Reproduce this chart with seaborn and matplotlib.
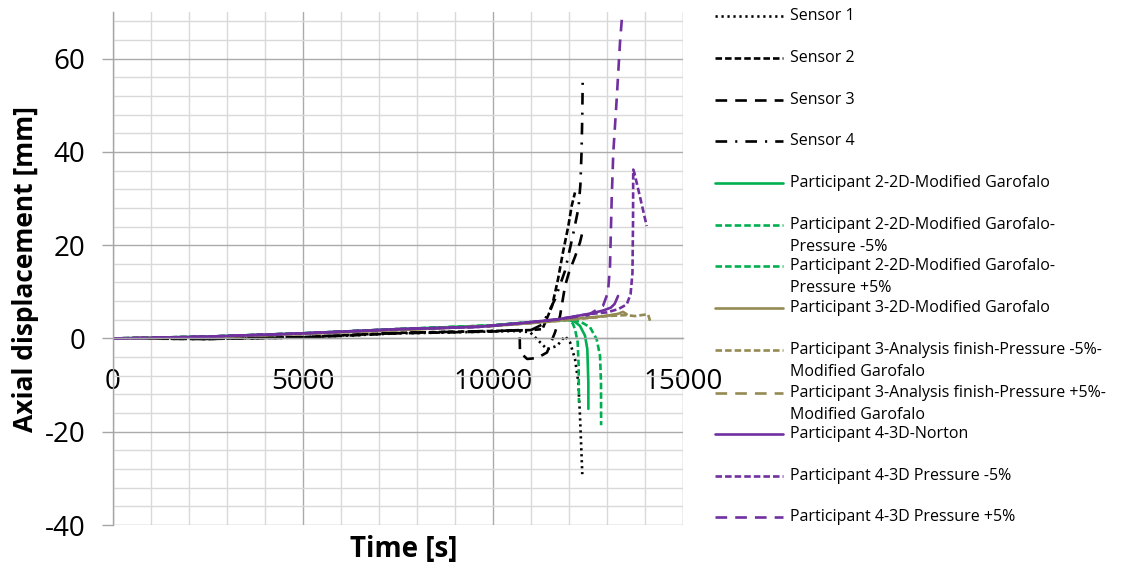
import matplotlib
matplotlib.use("Agg")
import matplotlib.pyplot as plt
import seaborn as sns
from matplotlib.lines import Line2D
from matplotlib.ticker import MultipleLocator

sns.set_theme(style="white")
plt.rcParams['font.family'] = ['Open Sans', 'DejaVu Sans']
plt.rcParams['lines.scale_dashes'] = False
plt.rcParams['axes.unicode_minus'] = False

# ---- measured axial displacement [mm] vs time [s] ----
sensor1_t = [0, 2500, 5000, 7500, 9000, 10000, 10600, 10974, 11237, 11421, 11684, 11895, 12026, 12158, 12245, 12289, 12350]
sensor1_d = [0, -0.1, 0.2, 1.1, 1.3, 1.5, 1.6, 1.35, -0.8, -2.3, -1.6, 0.5, -0.8, -4.4, -9.4, -16.6, -29.1]

sensor2_t = [0, 2500, 5000, 7500, 10000, 11000, 11300, 11553, 11711, 11842, 11982, 12070, 12158]
sensor2_d = [0, -0.1, 0.3, 1.2, 1.6, 1.8, 2.0, 6.9, 12.7, 18.5, 24.1, 28.4, 31.3]

sensor3_t = [0, 2500, 5000, 7500, 10000, 10700, 10710, 10900, 11160, 11421, 11632, 11763, 11895, 12000, 12158, 12289, 12360]
sensor3_d = [0, -0.1, 0.2, 1.1, 1.5, 1.8, -3.0, -4.4, -4.2, -3.0, 1.3, 4.8, 11.2, 14.2, 17.5, 20.6, 23.0]

sensor4_t = [0, 2500, 5000, 7500, 10000, 11000, 11300, 11632, 11895, 12100, 12250, 12300, 12330, 12350, 12362]
sensor4_d = [0, -0.1, 0.3, 1.2, 1.6, 1.8, 3.0, 8.4, 14.5, 22.0, 28.0, 33.0, 40.0, 48.0, 56.5]

# ---- participant 2 (2D, modified Garofalo) ----
p2_t = [0, 2500, 5000, 7500, 10000, 11000, 11700, 11974, 12150, 12289, 12421, 12482, 12509, 12510]
p2_d = [0, 0.4, 1.1, 2.0, 2.8, 3.5, 3.9, 4.0, 3.6, 2.7, 0.6, -2.3, -9.4, -15.1]

p2_m5_t = [0, 2500, 5000, 7500, 10000, 11000, 11700, 11974, 12300, 12553, 12728, 12816, 12842, 12845]
p2_m5_d = [0, 0.4, 1.1, 2.0, 2.8, 3.5, 3.9, 4.0, 3.6, 2.4, -0.15, -3.7, -9.4, -18.6]

p2_p5_t = [0, 2500, 5000, 7500, 10000, 11000, 11700, 11974, 12100, 12158, 12228, 12254, 12262]
p2_p5_d = [0, 0.4, 1.1, 2.0, 2.8, 3.5, 3.9, 4.0, 3.2, 2.0, -0.8, -5.9, -13.7]

# ---- participant 3 ----
p3_t = [0, 2500, 5000, 7500, 10000, 11000, 11800, 12400, 12816, 13100, 13300, 13421, 13518]
p3_d = [0, 0.3, 1.0, 1.8, 2.7, 3.3, 3.9, 4.4, 4.7, 5.0, 5.3, 5.7, 5.2]

p3_m5_t = [0, 2500, 5000, 7500, 10000, 11000, 11800, 12400, 13000, 13500, 13737, 14079, 14132]
p3_m5_d = [0, 0.3, 1.0, 1.8, 2.7, 3.3, 3.8, 4.3, 4.8, 5.0, 4.8, 5.2, 3.8]

p3_p5_t = [0, 2500, 5000, 7500, 10000, 11000, 11800, 12400, 12800, 13200, 13300]
p3_p5_d = [0, 0.3, 1.0, 1.8, 2.7, 3.3, 3.9, 4.4, 4.6, 5.1, 4.9]

# ---- participant 4 (3D, Norton) ----
p4_t = [0, 1000, 2500, 4000, 5000, 6500, 7500, 8500, 9650, 10500, 11000, 11700, 12200, 12600, 12900, 13100, 13200, 13290]
p4_d = [0, 0.1, 0.4, 0.8, 1.1, 1.6, 2.0, 2.2, 2.5, 3.1, 3.5, 4.1, 4.8, 5.4, 6.0, 6.6, 7.4, 9.1]

p4_m5_t = [0, 2500, 5000, 7500, 9650, 11000, 11700, 12500, 13000, 13300, 13520, 13620, 13670, 13685, 13690, 13720, 13850, 14045]
p4_m5_d = [0, 0.4, 1.1, 2.0, 2.5, 3.5, 4.1, 5.2, 5.6, 6.3, 7.3, 9.5, 14.0, 25.0, 36.2, 35.5, 31.0, 24.1]

p4_p5_t = [0, 2500, 5000, 7500, 9650, 11000, 11700, 12500, 12895, 13026, 13079, 13123, 13166, 13254, 13342, 13403, 13420]
p4_p5_d = [0, 0.4, 1.1, 2.0, 2.5, 3.5, 4.1, 5.0, 7.0, 9.9, 15.5, 29.8, 39.9, 51.2, 63.4, 69.8, 72.0]

GREEN = "#00B050"
OLIVE = "#948A54"
PURPLE = "#7030A0"

DOT = (0, (1.6, 2.7))
SHORT = (0, (4.7, 2.2))
LONG = (0, (8.4, 5.8))
DASHDOT = (0, (8.4, 5.8, 1.5, 5.8))
SOLID = "-"

series = [
    ("Sensor 1", sensor1_t, sensor1_d, "black", DOT),
    ("Sensor 2", sensor2_t, sensor2_d, "black", SHORT),
    ("Sensor 3", sensor3_t, sensor3_d, "black", LONG),
    ("Sensor 4", sensor4_t, sensor4_d, "black", DASHDOT),
    ("Participant 2-2D-Modified Garofalo", p2_t, p2_d, GREEN, SOLID),
    ("Participant 2-2D-Modified Garofalo-\nPressure -5%", p2_m5_t, p2_m5_d, GREEN, SHORT),
    ("Participant 2-2D-Modified Garofalo-\nPressure +5%", p2_p5_t, p2_p5_d, GREEN, SHORT),
    ("Participant 3-2D-Modified Garofalo", p3_t, p3_d, OLIVE, SOLID),
    ("Participant 3-Analysis finish-Pressure -5%-\nModified Garofalo", p3_m5_t, p3_m5_d, OLIVE, SHORT),
    ("Participant 3-Analysis finish-Pressure +5%-\nModified Garofalo", p3_p5_t, p3_p5_d, OLIVE, LONG),
    ("Participant 4-3D-Norton", p4_t, p4_d, PURPLE, SOLID),
    ("Participant 4-3D Pressure -5%", p4_m5_t, p4_m5_d, PURPLE, SHORT),
    ("Participant 4-3D Pressure +5%", p4_p5_t, p4_p5_d, PURPLE, LONG),
]

W, H = 1121, 569
fig = plt.figure(figsize=(W / 100, H / 100), dpi=100)
ax = fig.add_axes([113 / W, 1 - 525 / H, (683 - 113) / W, (525 - 12) / H])

LW = 1.9
for label, t, d, color, ls in series:
    sns.lineplot(x=t, y=d, ax=ax, color=color, linestyle=ls, linewidth=LW,
                 estimator=None, sort=False, legend=False)

ax.set_xlim(0, 15000)
ax.set_ylim(-40, 70)
ax.xaxis.set_major_locator(MultipleLocator(5000))
ax.xaxis.set_minor_locator(MultipleLocator(1000))
ax.yaxis.set_major_locator(MultipleLocator(20))
ax.yaxis.set_minor_locator(MultipleLocator(4))
ax.grid(which="minor", color="#D9D9D9", linewidth=1.0)
ax.grid(which="major", color="#ABABAB", linewidth=1.0)
ax.set_axisbelow(True)

for s in ("top", "right"):
    ax.spines[s].set_visible(False)
ax.spines["left"].set_color("#A6A6A6")
ax.spines["left"].set_linewidth(1.0)
ax.spines["bottom"].set_position(("data", 0))
ax.spines["bottom"].set_color("#A6A6A6")
ax.spines["bottom"].set_linewidth(1.0)

ax.tick_params(axis="y", which="major", direction="out", length=8, width=1.0,
               color="#A6A6A6", pad=12, labelsize=20, left=True, labelcolor="black")
ax.tick_params(axis="y", which="minor", length=0)
ax.tick_params(axis="x", which="both", length=0, pad=21, labelsize=20, bottom=True,
               labelcolor="black")
ax.set_xlabel("")
ax.set_ylabel("")

fig.text(404 / W, 1 - 549 / H, "Time [s]", ha="center", va="center",
         fontsize=20, fontweight="bold", color="black")
fig.text(26 / W, 1 - 269 / H, "Axial displacement [mm]", ha="center", va="center",
         rotation=90, fontsize=19, fontweight="bold", color="black")

# legend, drawn row by row at the right of the axes
rows = [16, 58, 100, 141, 183, 225, 266, 308, 350, 393, 434, 476, 517]
for (label, t, d, color, ls), y in zip(series, rows):
    fig.add_artist(Line2D([715 / W, 783 / W], [1 - y / H, 1 - y / H],
                          transform=fig.transFigure, color=color,
                          linestyle=ls, linewidth=LW))
    for k, part in enumerate(label.split("\n")):
        fig.text(790 / W, 1 - (y + 22 * k) / H, part, ha="left", va="center",
                 fontsize=11.5, color="black")

fig.savefig("out.png", dpi=100)
